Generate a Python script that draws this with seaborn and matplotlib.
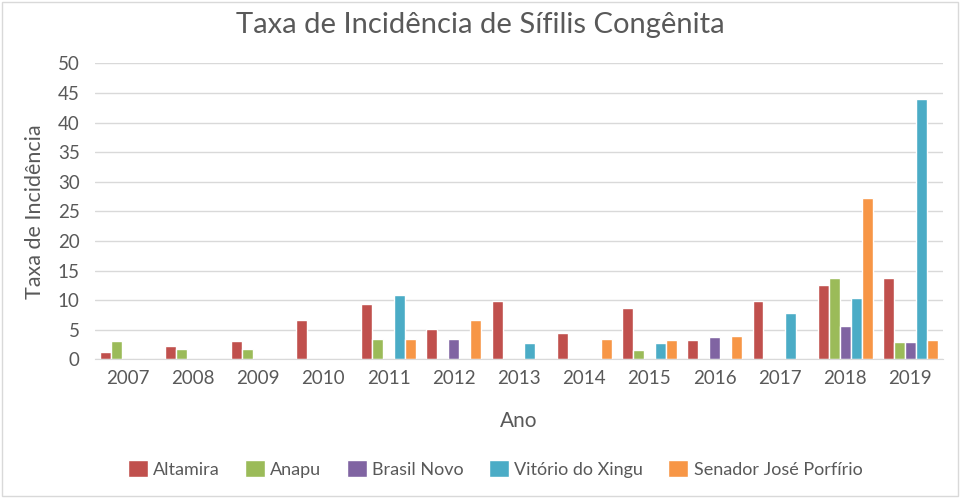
import numpy as np
import pandas as pd
import seaborn as sns
import matplotlib.pyplot as plt
from matplotlib.patches import Rectangle

anos = ["2007", "2008", "2009", "2010", "2011", "2012", "2013",
        "2014", "2015", "2016", "2017", "2018", "2019"]
municipios = ["Altamira", "Anapu", "Brasil Novo", "Vitório do Xingu",
              "Senador José Porfírio"]

altamira = [1.3, 2.2, 3.1, 6.7, 9.4, 5.1, 9.9, 4.4, 8.7, 3.2, 9.8, 12.6, 13.7]
anapu = [3.1, 1.8, 1.8, 0, 3.4, 0, 0, 0, 1.6, 0, 0, 13.7, 3.0]
brasil_novo = [0, 0, 0, 0, 0, 3.4, 0, 0, 0, 3.7, 0, 5.7, 3.0]
vitorio = [0, 0, 0, 0, 10.8, 0, 2.7, 0, 2.8, 0, 7.9, 10.3, 43.9]
senador = [0, 0, 0, 0, 3.4, 6.7, 0, 3.4, 3.2, 3.9, 0, 27.2, 3.2]

cores = ["#C0504D", "#9BBB59", "#8064A2", "#4BACC6", "#F79646"]

series = [altamira, anapu, brasil_novo, vitorio, senador]
rows = []
for nome, vals in zip(municipios, series):
    for ano, v in zip(anos, vals):
        rows.append({"Ano": ano, "Municipio": nome, "Taxa": v})
data = pd.DataFrame(rows)

sns.set_style("white")
plt.rcParams['font.family'] = ['Lato', 'DejaVu Sans']

fig = plt.figure(figsize=(9.6, 4.98), dpi=100)
ax = fig.add_axes([95 / 960, (498 - 359.3) / 498, (943 - 95) / 960, (359.3 - 63.3) / 498])

sns.barplot(data=data, x="Ano", y="Taxa", hue="Municipio", hue_order=municipios,
            palette=cores, width=0.84, saturation=1, ax=ax, legend=True)

ax.set_ylim(0, 50)
ax.set_yticks(np.arange(0, 51, 5))
ax.yaxis.grid(True, color="#D9D9D9", linewidth=1)
ax.set_axisbelow(True)
for pos in ['left', 'right', 'top']:
    ax.spines[pos].set_visible(False)
ax.spines['bottom'].set_color("#D9D9D9")
ax.tick_params(axis='both', length=0, labelsize=13.5, colors="#595959")
ax.tick_params(axis='x', pad=8)
ax.tick_params(axis='y', pad=11)

ax.set_xlabel("Ano", fontsize=15, color="#595959", labelpad=17)
ax.set_ylabel("Taxa de Incidência", fontsize=15.5, color="#595959", labelpad=9)

fig.text(0.5, 1 - 25 / 498, "Taxa de Incidência de Sífilis Congênita",
         ha="center", va="center", fontsize=21, color="#595959")

ax.legend(loc="center", bbox_to_anchor=((495 - 95) / 848, -0.37), ncol=5, frameon=False,
          fontsize=13, labelcolor="#595959", handlelength=1.1, handleheight=1.1,
          handletextpad=0.3, columnspacing=1.4)

fig.patches.append(Rectangle((0.002, 0.004), 0.996, 0.992, transform=fig.transFigure,
                             fill=False, edgecolor="#D9D9D9", linewidth=1))

plt.savefig("out.png", dpi=100)
